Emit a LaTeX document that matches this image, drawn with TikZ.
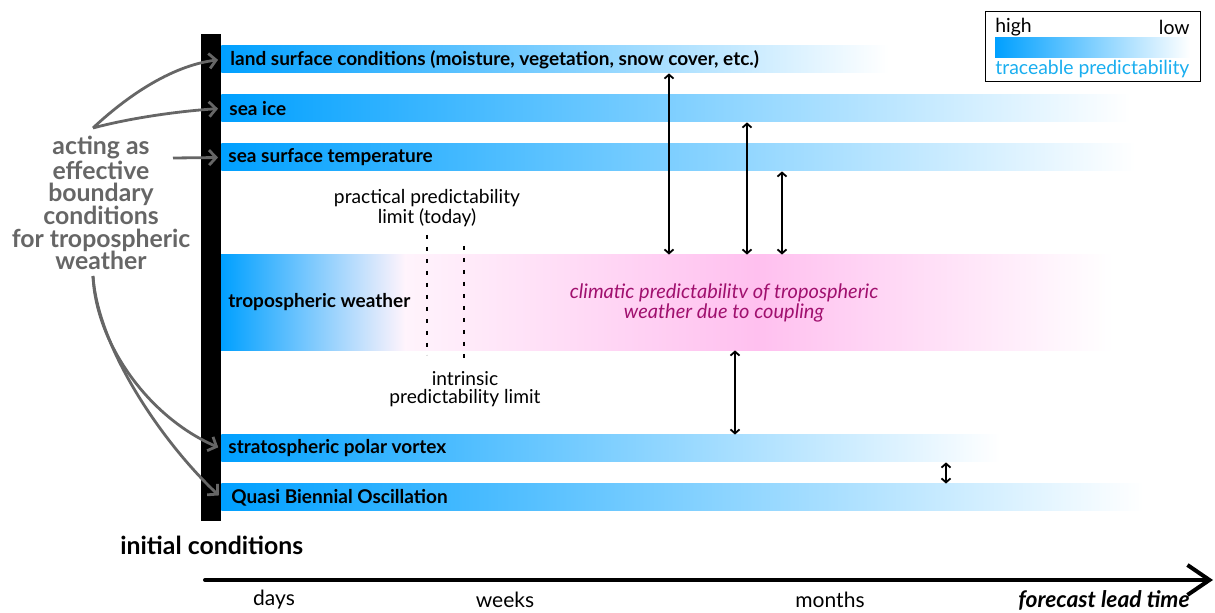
\documentclass[tikz,border=0pt]{standalone}
\usepackage{fontspec}
\setmainfont{Lato}
\usetikzlibrary{arrows.meta}
\definecolor{tblau}{HTML}{00A0FF}
\definecolor{tcyan}{HTML}{1AAEEF}
\definecolor{tpinkl}{HTML}{FFE6F8}
\definecolor{tpink}{HTML}{FFC0EF}
\definecolor{tmag}{HTML}{A0106E}
\definecolor{tgrau}{HTML}{666666}
\tikzset{
  bar/.style={anchor=west,minimum height=13.5pt,inner sep=0pt,draw=none,left color=tblau,right color=white},
  barlab/.style={anchor=west,inner sep=0pt,font=\fontsize{9.5}{11}\selectfont\bfseries},
  txt/.style={inner sep=0pt,align=center,font=\fontsize{9.6}{9}\selectfont},
  dpfeil/.style={{Straight Barb[length=2pt,width=4.5pt]}-{Straight Barb[length=2pt,width=4.5pt]},line width=0.9pt},
  gpfeil/.style={-{Straight Barb[length=3.5pt,width=7.5pt]},tgrau,line width=1.4pt,shorten >=1.5pt},
  grenze/.style={line width=0.7pt,dash pattern=on 1.8pt off 4.2pt},
}
\begin{document}
\begin{tikzpicture}[x=0.5pt,y=-0.5pt]
  \useasboundingbox (0,0) rectangle (1215,613);
  % bars
  \node[bar,minimum width=333.5pt] (land) at (221,59.5) {};
  \node[bar,minimum width=454.5pt] (seaice) at (221,108.5) {};
  \node[bar,minimum width=457pt] (sst) at (221,157.5) {};
  \node[bar,minimum width=389.5pt] (strat) at (221,448.5) {};
  \node[bar,minimum width=461pt] (qbo) at (221,497.5) {};
  \node[anchor=west,inner sep=0pt,minimum width=445.5pt,minimum height=47.5pt] (trop) at (221,302.5) {};
  \shade[left color=tblau,right color=tpinkl!45!white] (trop.north west) rectangle (405,0 |- trop.south);
  \shade[left color=tpinkl!45!white,right color=tpink] (405,0 |- trop.north) rectangle (757,0 |- trop.south);
  \shade[left color=tpink,right color=white] (757,0 |- trop.north) rectangle (trop.south east);
  \fill[black] (201,34) rectangle (221,521);
  \node[barlab] (landlab) at ([xshift=4.5pt]land.west) {land surface conditions (moisture, vegetation, snow cover, etc.)};
  \node[barlab] (seaicelab) at ([xshift=4pt]seaice.west) {sea ice};
  \node[barlab] (sstlab) at ([xshift=3.5pt]sst.west) {sea surface temperature};
  \node[barlab] (troplab) at ([xshift=3.5pt]trop.west) {tropospheric weather};
  \node[barlab] (stratlab) at ([xshift=3.5pt]strat.west) {stratospheric polar vortex};
  \node[barlab] (qbolab) at ([xshift=5pt]qbo.west) {Quasi Biennial Oscillation};
  \node[txt,text=tmag,font=\fontsize{10}{9}\selectfont\itshape] (klima) at (724,303) {climatic predictabilitv of tropospheric\\weather due to coupling};
  % predictability limits
  \draw[grenze] (427,235) -- (427,355);
  \draw[grenze] (464,246) -- (464,365);
  \node[txt] (praktisch) at (427,208) {practical predictability\\limit (today)};
  \node[txt] (intrinsisch) at (465,389) {intrinsic\\predictability limit};
  % coupling
  \draw[dpfeil] (669,0 |- land.south) -- (669,0 |- trop.north);
  \draw[dpfeil] (747,0 |- seaice.south) -- (747,0 |- trop.north);
  \draw[dpfeil] (782,0 |- sst.south) -- (782,0 |- trop.north);
  \draw[dpfeil] (735,0 |- trop.south) -- (735,0 |- strat.north);
  \draw[dpfeil] (946,0 |- strat.south) -- (946,0 |- qbo.north);
  % boundary conditions
  \node[txt,text=tgrau,font=\fontsize{12.4}{11.3}\selectfont\bfseries] (rand) at (101,203) {acting as\\effective\\boundary\\conditions\\for tropospheric\\weather};
  \coordinate (randO) at (93,128);
  \coordinate (randR) at (173,158);
  \coordinate (randU) at (93,276);
  \draw[gpfeil] (randO) .. controls (125,98) and (170,66) .. (land.west);
  \draw[gpfeil] (randO) .. controls (130,118) and (180,111) .. (seaice.west);
  \draw[gpfeil] (randR) -- (sst.west);
  \draw[gpfeil] (randU) .. controls (96,345) and (150,418) .. (strat.west);
  \draw[gpfeil] (randU) .. controls (98,350) and (165,445) .. (qbo.west);
  % legend
  \draw[line width=0.5pt] (985,12) rectangle (1200,82);
  \shade[left color=tblau,right color=white] (995,38) rectangle (1190,58);
  \node[txt,anchor=west,font=\fontsize{9.7}{10}\selectfont] (hoch) at (995,27) {high};
  \node[txt,anchor=east,font=\fontsize{9.7}{10}\selectfont] (tief) at (1190,27) {low};
  \node[txt,anchor=west,text=tcyan,font=\fontsize{9.7}{10}\selectfont] (legtxt) at (995,69) {traceable predictability};
  % time axis
  \node[anchor=west,inner sep=0pt,font=\fontsize{12.4}{12}\selectfont\bfseries] (anfang) at (120,545) {initial conditions};
  \coordinate (t0) at (205,580);
  \coordinate (t1) at (1213,580);
  \draw[-{Straight Barb[length=11pt,width=15pt]},line width=2pt,line cap=round] (t0) -- (t1);
  \node[txt,font=\fontsize{10.5}{10}\selectfont] (tage) at (274,600) {days};
  \node[txt,font=\fontsize{10.5}{10}\selectfont] (wochen) at (505,600) {weeks};
  \node[txt,font=\fontsize{10.5}{10}\selectfont] (monate) at (830,600) {months};
  \node[txt,anchor=east,font=\fontsize{11.4}{10}\selectfont\bfseries\itshape] (lead) at (1190,600) {forecast lead time};
\end{tikzpicture}
\end{document}
